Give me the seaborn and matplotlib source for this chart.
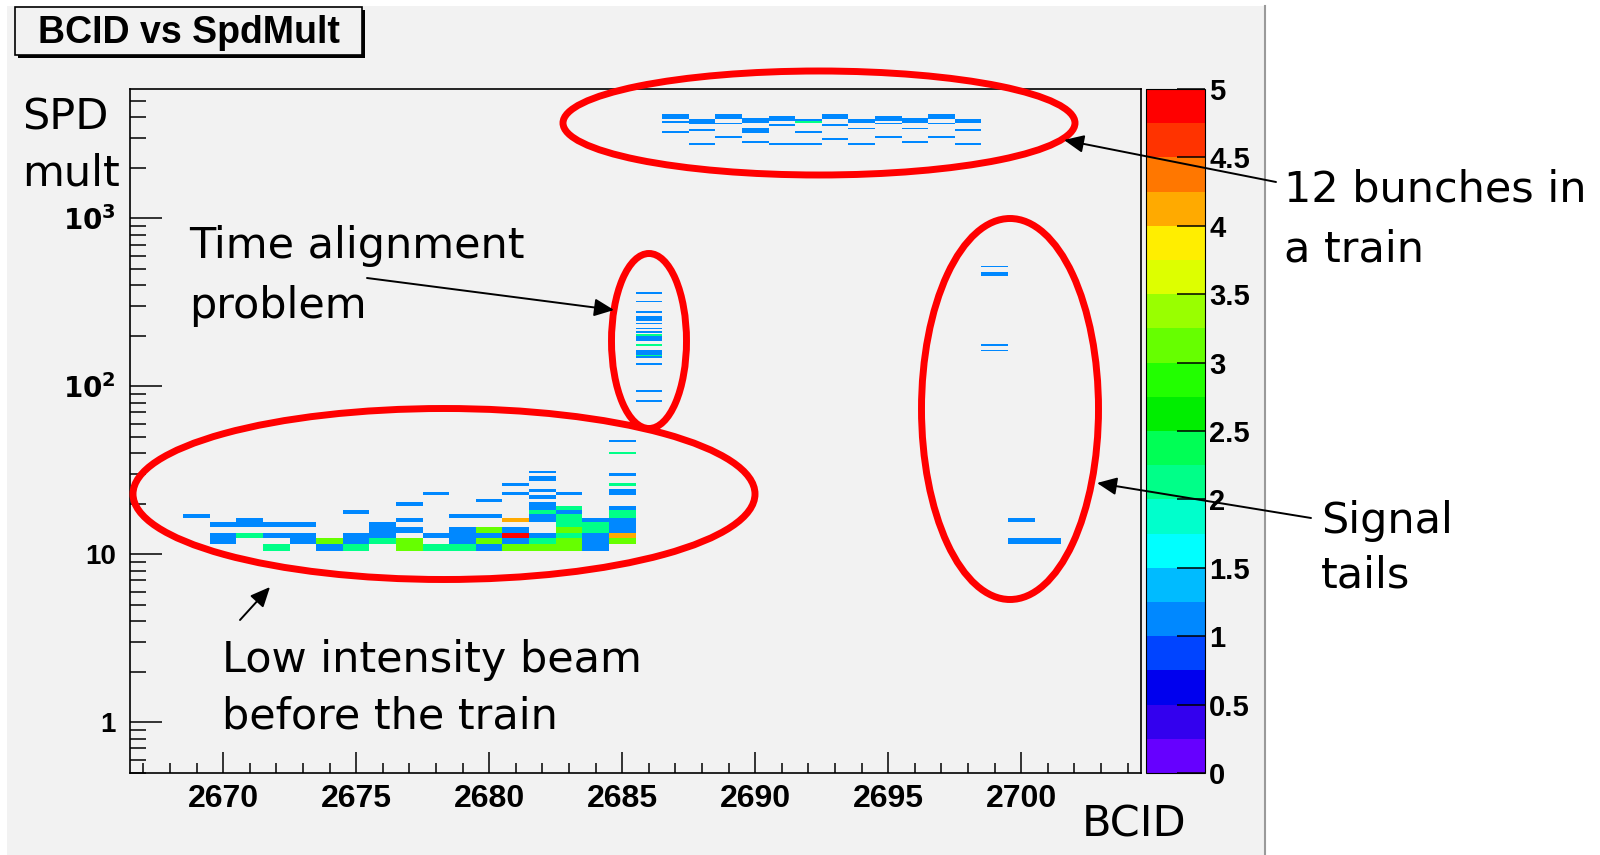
import numpy as np
import pandas as pd
import seaborn as sns
import matplotlib.pyplot as plt
from matplotlib.colors import ListedColormap
from matplotlib.lines import Line2D
from matplotlib.patches import Ellipse, Rectangle, FancyArrowPatch
from matplotlib.ticker import MultipleLocator, LogLocator, NullFormatter

# ---- data: (BCID, SPD multiplicity, entries) ----
low_beam = [
    (2669, 17, 1),
    (2670, 15, 1), (2670, 13, 1), (2670, 12, 1),
    (2671, 16, 1), (2671, 15, 1), (2671, 13, 2),
    (2672, 15, 1), (2672, 13, 1), (2672, 11, 2),
    (2673, 15, 1), (2673, 13, 1), (2673, 12, 1),
    (2674, 12, 3), (2674, 11, 1),
    (2675, 18, 1), (2675, 13, 1), (2675, 12, 1), (2675, 11, 2),
    (2676, 15, 1), (2676, 14, 1), (2676, 13, 1), (2676, 12, 2),
    (2677, 20, 1), (2677, 16, 1), (2677, 14, 1), (2677, 12, 3), (2677, 11, 3),
    (2678, 23, 1), (2678, 13, 1), (2678, 11, 2),
    (2679, 17, 1), (2679, 14, 1), (2679, 13, 1), (2679, 12, 1), (2679, 11, 2),
    (2680, 21, 1), (2680, 17, 1), (2680, 14, 3), (2680, 13, 1), (2680, 12, 3), (2680, 11, 1),
    (2681, 26, 1), (2681, 23, 1), (2681, 16, 4), (2681, 14, 1), (2681, 13, 5), (2681, 12, 1),
    (2681, 11, 3),
    (2682, 31, 1), (2682, 29, 1), (2682, 28, 1), (2682, 24, 1), (2682, 22, 1), (2682, 20, 1),
    (2682, 19, 1), (2682, 18, 2), (2682, 17, 1), (2682, 16, 1), (2682, 13, 1), (2682, 12, 2),
    (2682, 11, 3),
    (2683, 23, 1), (2683, 19, 2), (2683, 18, 1), (2683, 17, 2), (2683, 16, 2), (2683, 15, 2),
    (2683, 14, 3), (2683, 13, 2), (2683, 12, 3), (2683, 11, 3),
    (2684, 16, 1), (2684, 15, 2), (2684, 14, 2), (2684, 13, 1), (2684, 12, 1), (2684, 11, 1),
    (2685, 47, 1), (2685, 40, 2), (2685, 30, 1), (2685, 26, 2), (2685, 24, 1), (2685, 23, 1),
    (2685, 19, 1), (2685, 18, 2), (2685, 17, 2), (2685, 16, 1), (2685, 15, 1), (2685, 14, 1),
    (2685, 13, 4), (2685, 12, 3),
]

# BCID 2686: one entry per event
misaligned_bcid = 2686
misaligned_mult = [363, 321, 276, 262, 257, 251, 238, 221, 210, 200, 200,
                   196, 191, 187, 177, 177, 164, 160, 156, 152, 152, 148,
                   137, 94, 82]

# the 12 bunches of the train, one list of events per bunch
train_bcid = [2687, 2688, 2689, 2690, 2691, 2692, 2693, 2694, 2695, 2696, 2697, 2698]
train_mult = [
    [3968, 4060, 4155, 3760, 3250],
    [3675, 3760, 3848, 3340, 2812],
    [3968, 4060, 4155, 3680, 3090],
    [3766, 3854, 3944, 3245, 3320, 3397, 2875],
    [3890, 3980, 4073, 3600, 2812],
    [3820, 3733, 3733, 3250, 2760],
    [3968, 4060, 4155, 3600, 3000],
    [3757, 3844, 3405, 2800],
    [3873, 3963, 4055, 3680, 3090],
    [3724, 3810, 3899, 3405, 2860],
    [3968, 4060, 4155, 3680, 3090],
    [3757, 3844, 3320, 2812],
]

signal_tails = [
    (2699, 516, 1), (2699, 475, 1), (2699, 464, 1), (2699, 177, 1), (2699, 165, 1),
    (2700, 16, 1), (2700, 12, 1), (2701, 12, 1),
]

palette_colors = ["#6600ff", "#3300ee", "#0000ee", "#0044ff", "#0088ff",
                  "#00bbff", "#00ffff", "#00ffcc", "#00ff88", "#00ff55",
                  "#00ee00", "#22ff00", "#66ff00", "#99ff00", "#ddff00",
                  "#ffee00", "#ffaa00", "#ff7700", "#ff3300", "#ff0000"]
cbar_ticks = [0, 0.5, 1, 1.5, 2, 2.5, 3, 3.5, 4, 4.5, 5]
y_ticks = [1, 10, 100, 1000]
y_ticklabels = ["1", "10", r"$\mathbf{10^{2}}$", r"$\mathbf{10^{3}}$"]

# ---- build the table ----
rows = list(low_beam)
rows += [(misaligned_bcid, m, 1) for m in misaligned_mult]
for b, mults in zip(train_bcid, train_mult):
    rows += [(b, m, 1) for m in mults]
rows += signal_tails
df = pd.DataFrame(rows, columns=["bcid", "mult", "entries"])

# one bin per BCID; integer multiplicity bins up to 40, 0.01-decade bins above
bcid_edges = np.arange(2666.5, 2705.0, 1.0)
mult_edges = np.concatenate([np.arange(0.5, 41.0, 1.0), 10 ** (np.arange(161, 378) / 100)])

W, H = 1600, 855
def fx(x):
    return x / W
def fy(y):
    return 1 - y / H

plt.rcParams["font.family"] = ["Liberation Sans Narrow", "Liberation Sans", "DejaVu Sans"]
plt.rcParams["font.weight"] = "bold"
plt.rcParams["mathtext.fontset"] = "custom"
plt.rcParams["mathtext.rm"] = "Liberation Sans Narrow:bold"
plt.rcParams["mathtext.bf"] = "Liberation Sans Narrow:bold"

fig = plt.figure(figsize=(16, 8.55), dpi=100, facecolor="white")
# grey ROOT canvas, white slide around it
fig.patches.append(Rectangle((fx(7), 0), fx(1265) - fx(7), fy(6), transform=fig.transFigure,
                             facecolor="#f2f2f2", edgecolor="none", zorder=-10))
fig.lines.append(Line2D([fx(1265), fx(1265)], [0, fy(6)], transform=fig.transFigure,
                        color="#9a9a9a", lw=1.5, zorder=-9))

ax = fig.add_axes([fx(130), fy(773), fx(1141) - fx(130), fy(89) - fy(773)])
cax = fig.add_axes([fx(1146), fy(773), fx(1205) - fx(1146), fy(89) - fy(773)])
ax.set_facecolor("#f2f2f2")

root_cmap = ListedColormap(palette_colors)
sns.histplot(data=df, x="bcid", y="mult", weights="entries",
             bins=(bcid_edges, np.log10(mult_edges)), log_scale=(False, True),
             cmap=root_cmap, vmin=0, vmax=5, cbar=True, cbar_ax=cax, ax=ax)

ax.set_xlim(2666.5, 2704.5)
ax.set_ylim(0.5, 5900)
ax.set_xlabel("")
ax.set_ylabel("")
ax.xaxis.set_major_locator(MultipleLocator(5))
ax.xaxis.set_minor_locator(MultipleLocator(1))
ax.set_yticks(y_ticks, labels=y_ticklabels)
ax.yaxis.set_minor_locator(LogLocator(base=10, subs=np.arange(2, 10)))
ax.yaxis.set_minor_formatter(NullFormatter())
ax.tick_params(axis="x", which="major", direction="in", length=15, width=1.1, pad=8, labelsize=23)
ax.tick_params(axis="x", which="minor", direction="in", length=7.5, width=1.1)
ax.tick_params(axis="y", which="major", direction="in", length=23, width=1.1, pad=10, labelsize=20)
ax.tick_params(axis="y", which="minor", direction="in", length=11.5, width=1.1)
for s in ax.spines.values():
    s.set_linewidth(1.2)
    s.set_color("black")
ax.grid(False)

cax.set_yticks(cbar_ticks, labels=[f"{t:g}" for t in cbar_ticks])
cax.tick_params(direction="in", length=20, width=1.1, pad=3, labelsize=21)

# ---- title box ----
fig.patches.append(Rectangle((fx(18), fy(58)), fx(365) - fx(18), fy(10) - fy(58),
                             transform=fig.transFigure, facecolor="black", zorder=5))
fig.patches.append(Rectangle((fx(15), fy(55)), fx(362) - fx(15), fy(7) - fy(55),
                             transform=fig.transFigure, facecolor="#f2f2f2",
                             edgecolor="black", lw=1.2, zorder=6))
fig.text(fx(189), fy(33), "BCID vs SpdMult", ha="center", va="center", fontsize=27,
         family=["Liberation Sans", "DejaVu Sans"], weight="bold", zorder=7)

# ---- hand-drawn annotations ----
note = dict(family=["DejaVu Sans"], weight="normal", fontsize=31, color="black",
            ha="left", va="center", zorder=20)
fig.text(fx(22), fy(117), "SPD", **note)
fig.text(fx(22), fy(173), "mult", **note)
fig.text(fx(1082), fy(824), "BCID", **note)
fig.text(fx(189), fy(246), "Time alignment", **note)
fig.text(fx(189), fy(306), "problem", **note)
fig.text(fx(1284), fy(189), "12 bunches in", **note)
fig.text(fx(1284), fy(249), "a train", **note)
fig.text(fx(1321), fy(521), "Signal", **note)
fig.text(fx(1321), fy(576), "tails", **note)
fig.text(fx(222), fy(660), "Low intensity beam", **note)
fig.text(fx(222), fy(716), "before the train", **note)

ellipses = [((819, 123), 512, 104), ((649, 341), 75, 175),
            ((444, 494), 622, 171), ((1010, 409), 177, 381)]
for (cx, cy), ew, eh in ellipses:
    fig.patches.append(Ellipse((fx(cx), fy(cy)), ew / W, eh / H, transform=fig.transFigure,
                               fill=False, edgecolor="#ff0000", lw=5, zorder=15))

arrows = [((367, 278), (614, 310)), ((1276, 182), (1064, 140)),
          ((1311, 518), (1097, 483)), ((240, 620), (270, 587))]
for (x0, y0), (x1, y1) in arrows:
    fig.patches.append(FancyArrowPatch((fx(x0), fy(y0)), (fx(x1), fy(y1)),
                                       transform=fig.transFigure,
                                       arrowstyle="-|>,head_length=0.6,head_width=0.27",
                                       mutation_scale=20, shrinkA=0, shrinkB=0,
                                       color="black", lw=1.4, zorder=16))

fig.savefig("out.png", dpi=100, facecolor=fig.get_facecolor())
